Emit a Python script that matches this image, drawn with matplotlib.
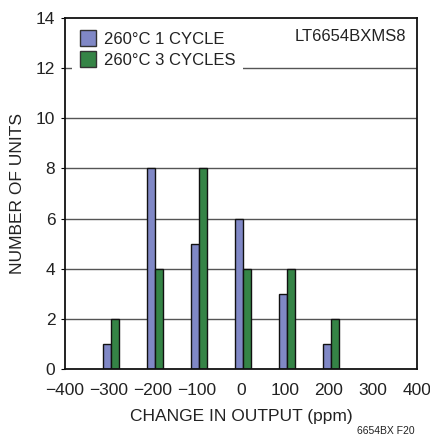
import matplotlib
matplotlib.use("Agg")
import matplotlib.pyplot as plt
from matplotlib.lines import Line2D
import numpy as np

plt.rcParams['font.family'] = ['Liberation Sans Narrow', 'Liberation Sans', 'DejaVu Sans']

categories = [-300, -200, -100, 0, 100, 200]
cycle1 = [1, 8, 5, 6, 3, 1]
cycle3 = [2, 4, 8, 4, 4, 2]
series_names = ["260°C 1 CYCLE", "260°C 3 CYCLES"]
xticks = [-400, -300, -200, -100, 0, 100, 200, 300, 400]
xtick_labels = ["\u2212400", "\u2212300", "\u2212200", "\u2212100", "0", "100", "200", "300", "400"]
yticks = [0, 2, 4, 6, 8, 10, 12, 14]

blue = "#8088c6"
green = "#358446"

W, H = 430, 437
fig = plt.figure(figsize=(W / 100, H / 100), dpi=100)
l, r, t, b = 65, 417, 18, 369
ax = fig.add_axes([l / W, 1 - b / H, (r - l) / W, (b - t) / H])

x = np.array(categories, dtype=float)
bw = 18
off = 5
ax.bar(x + off - bw / 2, cycle1, width=bw, color=blue, edgecolor="#111111", linewidth=1.0, zorder=3)
ax.bar(x + off + bw / 2, cycle3, width=bw, color=green, edgecolor="#111111", linewidth=1.0, zorder=3)

ax.set_xlim(-400, 400)
ax.set_ylim(0, 14)
ax.set_xticks(xticks)
ax.set_xticklabels(xtick_labels)
ax.set_yticks(yticks)
ax.tick_params(axis='x', length=0, pad=10, labelsize=12.5, labelcolor="#222222")
ax.tick_params(axis='y', length=3, width=0.8, pad=4, labelsize=12.5, labelcolor="#222222")
for y in yticks[1:-1]:
    ax.axhline(y, color="#555555", linewidth=1.0, zorder=1)
for s in ax.spines.values():
    s.set_linewidth(1.3)
    s.set_color("#111111")
    s.set_zorder(5)

ax.set_xlabel("CHANGE IN OUTPUT (ppm)", fontsize=12.5, color="#222222", labelpad=8)
ax.set_ylabel("NUMBER OF UNITS", fontsize=12.5, color="#222222", labelpad=8)

handles = [Line2D([], [], linestyle='none', marker='s', markersize=11, markerfacecolor=blue, markeredgecolor="#333333"),
           Line2D([], [], linestyle='none', marker='s', markersize=11, markerfacecolor=green, markeredgecolor="#333333")]
leg = ax.legend(handles, series_names, loc='upper left', bbox_to_anchor=(0.0, 1.0), fontsize=12,
                frameon=True, framealpha=1, facecolor='white', edgecolor='none', fancybox=False,
                handlelength=1.0, handletextpad=0.5, labelspacing=0.35, borderpad=0.45, borderaxespad=0.4,
                labelcolor="#222222")
leg.set_zorder(4)

ax.text(0.97, 0.97, "LT6654BXMS8", transform=ax.transAxes, ha='right', va='top', fontsize=12, color="#222222", zorder=6)
fig.text(415 / W, 1 - 431 / H, "6654BX F20", ha='right', va='center', fontsize=7.5, color="#222222")

fig.savefig("out.png", dpi=100, facecolor='white')
